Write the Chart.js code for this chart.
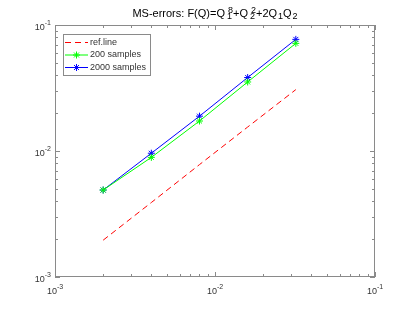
<!DOCTYPE html>
<html>
<head>
<meta charset="utf-8">
<script src="https://cdn.jsdelivr.net/npm/chart.js@4"></script>
<style>
  html, body { margin: 0; padding: 0; background: #fff; }
  #wrap { width: 415px; height: 312px; }
</style>
</head>
<body>
<div id="wrap"><canvas id="chart"></canvas></div>
<script>
// data (log-log)
const xVals = [0.002, 0.004, 0.008, 0.016, 0.032];
const refLine = [0.00196, 0.0039, 0.0078, 0.0155, 0.0307];
const samples200 = [0.0049, 0.0089, 0.0173, 0.0353, 0.0715];
const samples2000 = [0.0049, 0.0096, 0.0189, 0.0383, 0.0769];
const seriesNames = ['ref.line', '200 samples', '2000 samples'];
const decadeVals = [0.001, 0.01, 0.1];
const decadeExps = ['-3', '-2', '-1'];
// title pieces: plain text, and stacked super/subscripts
const titleParts = [
  { t: 'MS-errors: F(Q)=Q' }, { sup: '8', sub: '1' }, { t: '+Q' }, { sup: '2', sub: '2' },
  { t: '+2Q' }, { sub: '1' }, { t: 'Q' }, { sub: '2' }
];

const FONT = '"Liberation Sans", Arial, Helvetica, sans-serif';
const axisColor = '#8a8a8a';
const textColor = '#333333';

function toPts(ys) {
  return xVals.map((x, i) => ({ x, y: ys[i] }));
}

function drawPow(ctx, x, y, exp, mode) {
  ctx.font = '9px ' + FONT;
  const w1 = ctx.measureText('10').width;
  ctx.font = '7px ' + FONT;
  const w2 = ctx.measureText(exp).width;
  let sx, baseY, expY;
  if (mode === 'y') {
    sx = x - w1 - w2;
    baseY = y + 2.5;
    expY = y - 2;
  } else {
    sx = x - (w1 + w2) / 2;
    baseY = y + 14.5;
    expY = y + 10.5;
  }
  ctx.fillStyle = textColor;
  ctx.textBaseline = 'middle';
  ctx.textAlign = 'left';
  ctx.font = '9px ' + FONT;
  ctx.fillText('10', sx, baseY);
  ctx.font = '7px ' + FONT;
  ctx.fillText(exp, sx + w1, expY);
}

const matlabAxes = {
  id: 'matlabAxes',
  afterDatasetsDraw(chart) {
    const { ctx, chartArea: a, scales } = chart;
    const xs = scales.x, ys = scales.y;
    ctx.save();
    // box
    ctx.strokeStyle = axisColor;
    ctx.lineWidth = 1;
    ctx.strokeRect(a.left + 0.5, a.top + 0.5, a.right - a.left - 1, a.bottom - a.top - 1);

    // tick marks on all four sides, pointing in
    ctx.beginPath();
    for (let d = 0; d < decadeVals.length; d++) {
      for (let m = 1; m <= 9; m++) {
        if (d === decadeVals.length - 1 && m > 1) break;
        const v = decadeVals[d] * m;
        const len = m === 1 ? 5 : 3;
        const px = Math.round(xs.getPixelForValue(v)) + 0.5;
        ctx.moveTo(px, a.bottom); ctx.lineTo(px, a.bottom - len);
        ctx.moveTo(px, a.top); ctx.lineTo(px, a.top + len);
        const py = Math.round(ys.getPixelForValue(v)) + 0.5;
        ctx.moveTo(a.left, py); ctx.lineTo(a.left + len, py);
        ctx.moveTo(a.right, py); ctx.lineTo(a.right - len, py);
      }
    }
    ctx.stroke();

    // tick labels
    decadeVals.forEach((v, i) => {
      drawPow(ctx, xs.getPixelForValue(v), a.bottom, decadeExps[i], 'x');
      drawPow(ctx, a.left - 4, ys.getPixelForValue(v), decadeExps[i], 'y');
    });

    // title with super/subscripts
    const big = '11px ' + FONT, small = '9px ' + FONT;
    let total = 0;
    const widths = titleParts.map(p => {
      let w;
      if (p.t) { ctx.font = big; w = ctx.measureText(p.t).width; }
      else {
        ctx.font = small;
        w = Math.max(p.sup ? ctx.measureText(p.sup).width : 0, ctx.measureText(p.sub || '').width);
        w += p.sup ? 3 : 1;
      }
      total += w;
      return w;
    });
    let tx = (a.left + a.right) / 2 - total / 2;
    const ty = 14;
    ctx.fillStyle = '#000';
    ctx.textBaseline = 'middle';
    ctx.textAlign = 'left';
    titleParts.forEach((p, i) => {
      if (p.t) { ctx.font = big; ctx.fillText(p.t, tx, ty); }
      else {
        ctx.font = small;
        const off = p.sup ? 3 : 1;
        if (p.sup) ctx.fillText(p.sup, tx + off, ty - 3.5);
        if (p.sub) ctx.fillText(p.sub, tx + off - (p.sup ? 1 : 0), ty + 3);
      }
      tx += widths[i];
    });

    // legend box
    const lx = 63, ly = 34, lw = 87, lh = 41;
    ctx.fillStyle = '#fff';
    ctx.fillRect(lx, ly, lw, lh);
    ctx.strokeStyle = axisColor;
    ctx.strokeRect(lx + 0.5, ly + 0.5, lw, lh);
    chart.data.datasets.forEach((ds, i) => {
      const y = ly + 8.5 + i * 12.5;
      ctx.strokeStyle = ds.borderColor;
      ctx.lineWidth = 1;
      ctx.setLineDash(ds.borderDash || []);
      ctx.beginPath();
      ctx.moveTo(lx + 2, y); ctx.lineTo(lx + 25, y);
      ctx.stroke();
      ctx.setLineDash([]);
      if (ds.pointRadius > 0) {
        Chart.helpers.drawPoint(ctx, {
          pointStyle: ds.pointStyle, radius: ds.pointRadius, borderWidth: 1, rotation: 0
        }, lx + 13.5, y);
      }
      ctx.fillStyle = textColor;
      ctx.font = '9px ' + FONT;
      ctx.fillText(ds.label, lx + 27, y);
    });
    ctx.restore();
  }
};

new Chart(document.getElementById('chart'), {
  type: 'line',
  data: {
    datasets: [
      {
        label: seriesNames[0], data: toPts(refLine),
        borderColor: '#ff0000', borderWidth: 1, borderDash: [6, 4], pointRadius: 0
      },
      {
        label: seriesNames[1], data: toPts(samples200),
        borderColor: '#00ff00', borderWidth: 1, pointStyle: 'star', pointRadius: 3.5,
        pointBorderColor: '#00ff00', pointBorderWidth: 1
      },
      {
        label: seriesNames[2], data: toPts(samples2000),
        borderColor: '#0000ff', borderWidth: 1, pointStyle: 'star', pointRadius: 3.5,
        pointBorderColor: '#0000ff', pointBorderWidth: 1
      }
    ]
  },
  options: {
    responsive: true,
    maintainAspectRatio: false,
    animation: false,
    layout: { padding: { left: 55, right: 40, top: 25, bottom: 35 } },
    plugins: { legend: { display: false }, title: { display: false }, tooltip: { enabled: false } },
    scales: {
      x: { type: 'logarithmic', min: 0.001, max: 0.1, display: false },
      y: { type: 'logarithmic', min: 0.001, max: 0.1, display: false }
    }
  },
  plugins: [matlabAxes]
});
</script>
</body>
</html>
